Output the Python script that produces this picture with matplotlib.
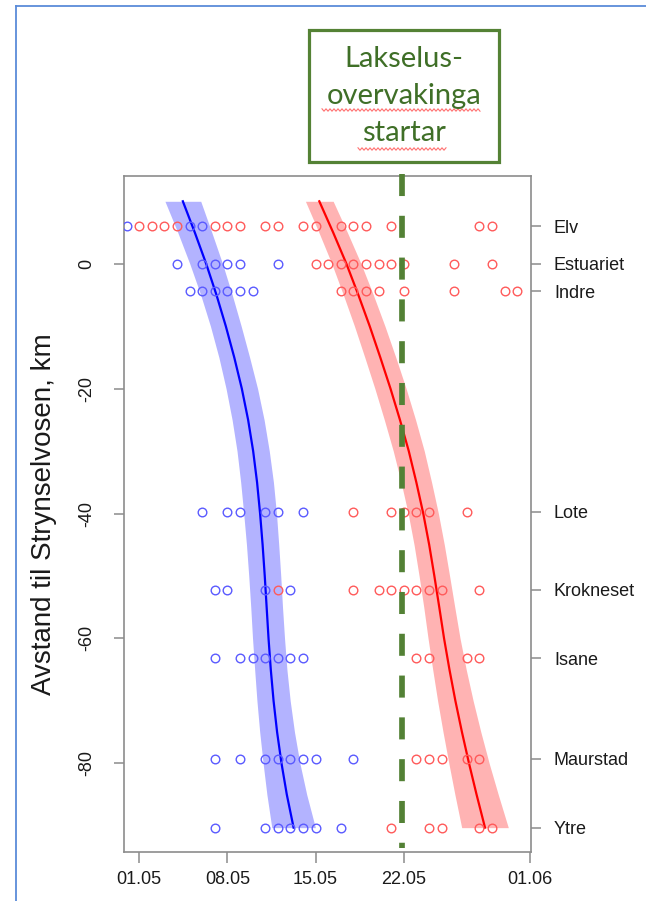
import numpy as np
import matplotlib
matplotlib.use("Agg")
import matplotlib.pyplot as plt
from matplotlib.patches import Rectangle
from matplotlib.lines import Line2D

plt.rcParams['axes.unicode_minus'] = False
plt.rcParams['font.family'] = ['Liberation Sans', 'DejaVu Sans']

# ---------------- data (days after 1 May, km from river mouth) ----------------
x_tick_days = [0, 7, 14, 21, 31]
x_tick_labels = ['01.05', '08.05', '15.05', '22.05', '01.06']
y_ticks = [0, -20, -40, -60, -80]

stations = ['Elv', 'Estuariet', 'Indre', 'Lote', 'Krokneset', 'Isane', 'Maurstad', 'Ytre']
station_km = [6.0, 0.0, -4.4, -39.7, -52.2, -63.2, -79.3, -90.3]

blue_days = {
    'Elv': [-1, 4, 5],
    'Estuariet': [3, 5, 6, 7, 8, 11],
    'Indre': [4, 5, 6, 7, 8, 9],
    'Lote': [5, 7, 8, 10, 11, 13],
    'Krokneset': [6, 7, 10, 12],
    'Isane': [6, 8, 9, 10, 11, 12, 13],
    'Maurstad': [6, 8, 10, 11, 12, 13, 14, 17],
    'Ytre': [6, 10, 11, 12, 13, 14, 16],
}
red_days = {
    'Elv': [0, 1, 2, 3, 6, 7, 8, 10, 11, 13, 14, 16, 17, 18, 20, 27, 28],
    'Estuariet': [14, 15, 16, 17, 18, 19, 20, 21, 25, 28],
    'Indre': [16, 17, 18, 19, 21, 25, 29, 30],
    'Lote': [17, 20, 21, 22, 23, 26],
    'Krokneset': [11, 17, 19, 20, 21, 22, 23, 24, 27],
    'Isane': [22, 23, 26, 27],
    'Maurstad': [22, 23, 24, 26, 27],
    'Ytre': [20, 23, 24, 27, 28],
}

curve_km = [10, 5, 0, -5, -10, -15, -20, -25, -30, -35, -40, -45, -50,
            -55, -60, -65, -70, -75, -80, -85, -90.3]
blue_fit = [3.47, 4.42, 5.32, 6.14, 6.88, 7.55, 8.15, 8.65, 9.05, 9.36, 9.6,
            9.8, 9.97, 10.12, 10.27, 10.45, 10.67, 10.95, 11.3, 11.72, 12.26]
blue_halfwidth = [1.42, 1.35, 1.3, 1.25, 1.22, 1.22, 1.25, 1.27, 1.28, 1.3, 1.3,
                  1.28, 1.27, 1.26, 1.27, 1.28, 1.32, 1.38, 1.46, 1.58, 1.73]
red_fit = [14.3, 15.4, 16.45, 17.4, 18.3, 19.14, 19.95, 20.7, 21.4, 22.0, 22.55,
           23.02, 23.43, 23.82, 24.2, 24.63, 25.1, 25.62, 26.18, 26.78, 27.45]
red_halfwidth = [1.1, 1.13, 1.16, 1.19, 1.21, 1.23, 1.24, 1.24, 1.23, 1.21, 1.2,
                 1.2, 1.21, 1.23, 1.27, 1.33, 1.41, 1.5, 1.6, 1.72, 1.85]

monitoring_start_day = 20.85
box_text = "Lakselus-\novervakinga\nstartar"
y_label = "Avstand til Strynselvosen, km"

# ---------------- figure ----------------
W, H = 646, 901
fig = plt.figure(figsize=(W / 100, H / 100), dpi=100)
ax = fig.add_axes([124 / W, 1 - 852 / H, (531 - 124) / W, (852 - 176) / H])
ax.set_xlim(-1.2, 31.1)
ax.set_ylim(-94.2, 14.05)

bf = np.array(blue_fit)
bh = np.array(blue_halfwidth)
rf = np.array(red_fit)
rh = np.array(red_halfwidth)
ax.fill_betweenx(curve_km, bf - bh, bf + bh, color='#b3b3ff', lw=0, zorder=1)
ax.fill_betweenx(curve_km, rf - rh, rf + rh, color='#ffb3b3', lw=0, zorder=1)
ax.plot(bf, curve_km, color='#0000ff', lw=1.6, zorder=2)
ax.plot(rf, curve_km, color='#ff0000', lw=1.6, zorder=2)

for name, km in zip(stations, station_km):
    bx = blue_days[name]
    rx = red_days[name]
    ax.plot(rx, [km] * len(rx), 'o', ms=6.2, mfc='none', mec='#ff5a5a', mew=1.0, zorder=3)
    ax.plot(bx, [km] * len(bx), 'o', ms=6.2, mfc='none', mec='#5a5aff', mew=1.0, zorder=3)

ax.plot([monitoring_start_day, monitoring_start_day], [14.45, -93.5],
        color='#538135', lw=4.1, linestyle=(0, (3.87, 3.47)), zorder=5, clip_on=False)

frame_col = '#8c8c8c'
for s in ax.spines.values():
    s.set_color(frame_col)
    s.set_linewidth(1.2)

ax.set_xticks(x_tick_days, x_tick_labels)
ax.set_yticks(y_ticks, [str(v) for v in y_ticks])
ax.tick_params(axis='x', direction='out', length=8, width=1.1, color=frame_col,
               labelsize=13, pad=5.5, labelcolor='#1a1a1a')
ax.tick_params(axis='y', direction='out', length=7.5, width=1.1, color=frame_col,
               labelsize=13, pad=13, labelcolor='#1a1a1a', labelrotation=90)
for lab in ax.get_yticklabels():
    lab.set_va('center')
ax.set_ylabel(y_label, fontsize=20, color='#1a1a1a')
ax.yaxis.set_label_coords(-0.165, 0.5)

ax2 = ax.twinx()
ax2.set_ylim(ax.get_ylim())
ax2.set_yticks(station_km, stations)
ax2.tick_params(axis='y', direction='out', length=7.5, width=1.1, color=frame_col,
                labelsize=13, pad=9, labelcolor='#1a1a1a')
for s in ax2.spines.values():
    s.set_visible(False)

# ---------------- annotation box ----------------
def fx(px):
    return px / W

def fy(py):
    return 1 - py / H

fig.add_artist(Rectangle((fx(309), fy(162)), fx(499) - fx(309), fy(30) - fy(162),
                         transform=fig.transFigure, fill=False, ec='#548235', lw=2.3))
fig.text(fx(404), fy(96), box_text, ha='center', va='center', fontsize=21,
         family=['Lato', 'DejaVu Sans'], color='#3f6f27', linespacing=1.52)

def wavy(x0, x1, y, period=4.0, amp=1.2):
    xs = np.arange(x0, x1 + 0.01, period / 2)
    ys = y + amp * np.where(np.arange(len(xs)) % 2 == 0, -1, 1)
    fig.add_artist(Line2D([fx(v) for v in xs], [fy(v) for v in ys],
                          transform=fig.transFigure, color='#ff7070', lw=0.8))

wavy(322, 480, 110)
wavy(358, 447, 149)

# blue outer frame lines (top and left)
fig.add_artist(Line2D([fx(16), fx(646)], [fy(6), fy(6)], transform=fig.transFigure,
                      color='#5b8bd9', lw=1.3))
fig.add_artist(Line2D([fx(16), fx(16)], [fy(6), fy(901)], transform=fig.transFigure,
                      color='#5b8bd9', lw=1.3))

fig.savefig('out.png', dpi=100)
